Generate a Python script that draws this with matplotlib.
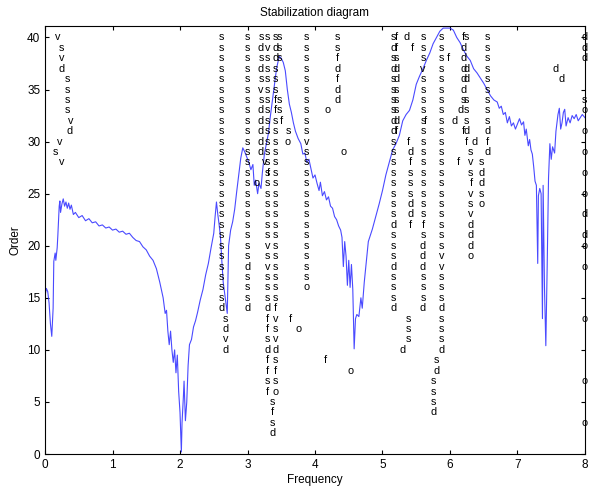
#!/usr/bin/env python3
"""Stabilization diagram: pole markers over a frequency response curve."""

import matplotlib
matplotlib.use("Agg")
import matplotlib.pyplot as plt

# Frequency response curve (scaled to the order axis)
curve_freq = [
    0.00, 0.02, 0.04, 0.06, 0.08, 0.10, 0.12, 0.13, 0.15, 0.16, 0.18, 0.19, 0.21, 0.22,
    0.23, 0.25, 0.27, 0.29, 0.31, 0.33, 0.35, 0.37, 0.39, 0.42, 0.45, 0.50, 0.55, 0.60,
    0.65, 0.70, 0.75, 0.80, 0.85, 0.90, 0.95, 1.00, 1.05, 1.10, 1.15, 1.20, 1.25, 1.30,
    1.35, 1.40, 1.45, 1.50, 1.55, 1.60, 1.65, 1.70, 1.75, 1.78, 1.80, 1.82, 1.84, 1.86,
    1.88, 1.90, 1.92, 1.94, 1.96, 1.98, 2.00, 2.02, 2.03, 2.05, 2.06, 2.08, 2.10, 2.12,
    2.14, 2.17, 2.20, 2.23, 2.26, 2.30, 2.34, 2.38, 2.42, 2.46, 2.50, 2.52, 2.54, 2.56,
    2.58, 2.60, 2.62, 2.64, 2.66, 2.68, 2.70, 2.71, 2.72, 2.75, 2.78, 2.81, 2.84, 2.87,
    2.90, 2.93, 2.96, 2.99, 3.02, 3.05, 3.08, 3.10, 3.12, 3.15, 3.17, 3.20, 3.22, 3.25,
    3.28, 3.31, 3.34, 3.37, 3.40, 3.43, 3.47, 3.50, 3.53, 3.56, 3.59, 3.62, 3.65, 3.68,
    3.71, 3.75, 3.79, 3.82, 3.85, 3.88, 3.91, 3.94, 3.97, 4.00, 4.03, 4.06, 4.08, 4.11,
    4.14, 4.17, 4.20, 4.23, 4.26, 4.29, 4.32, 4.35, 4.38, 4.40, 4.42, 4.44, 4.46, 4.48,
    4.50, 4.52, 4.54, 4.56, 4.58, 4.60, 4.62, 4.65, 4.68, 4.70, 4.73, 4.76, 4.79, 4.82,
    4.85, 4.90, 4.95, 5.00, 5.05, 5.10, 5.15, 5.20, 5.25, 5.30, 5.35, 5.40, 5.45, 5.50,
    5.55, 5.60, 5.65, 5.70, 5.75, 5.80, 5.85, 5.90, 5.95, 6.00, 6.05, 6.10, 6.15, 6.20,
    6.25, 6.30, 6.35, 6.40, 6.45, 6.50, 6.55, 6.60, 6.65, 6.70, 6.73, 6.76, 6.79, 6.82,
    6.85, 6.88, 6.91, 6.94, 6.97, 7.00, 7.03, 7.06, 7.09, 7.11, 7.13, 7.16, 7.18, 7.20,
    7.22, 7.24, 7.26, 7.28, 7.30, 7.31, 7.33, 7.35, 7.37, 7.38, 7.40, 7.42, 7.44, 7.46,
    7.48, 7.50, 7.52, 7.55, 7.57, 7.60, 7.62, 7.64, 7.66, 7.68, 7.70, 7.72, 7.75, 7.78,
    7.81, 7.84, 7.87, 7.90, 7.93, 7.96, 8.00,
]
curve_val = [
    15.2, 15.9, 15.6, 14.5, 12.5, 11.3, 14.0, 18.5, 19.3, 18.6, 19.8, 21.0, 23.8, 24.3,
    23.2, 24.0, 24.5, 23.8, 24.2, 23.6, 24.1, 23.5, 23.9, 23.0, 23.2, 22.7, 22.9, 22.4,
    22.6, 22.2, 22.3, 21.9, 22.0, 21.7, 21.8, 21.5, 21.6, 21.3, 21.4, 21.1, 21.2, 20.8,
    20.5, 20.4, 19.9, 19.6, 19.0, 18.6, 17.8, 16.5, 15.0, 13.5, 13.8, 11.8, 10.5, 11.8,
    10.0, 8.8, 10.0, 7.8, 9.5, 6.0, 4.0, 0.2, 3.0, 5.5, 7.0, 3.2, 5.0, 8.5,
    10.5, 11.0, 12.2, 12.8, 13.6, 14.8, 15.8, 17.2, 18.3, 19.8, 21.2, 22.8, 24.2, 23.0,
    22.0, 20.8, 18.5, 16.5, 15.5, 14.5, 13.5, 17.0, 20.0, 21.5, 22.3, 23.5, 25.2, 26.8,
    28.4, 29.4, 29.0, 28.5, 28.0, 27.3, 27.8, 25.8, 26.3, 25.0, 26.0, 25.5, 27.0, 28.8,
    29.8, 30.8, 32.5, 34.0, 35.5, 37.0, 38.2, 38.0, 37.6, 36.8, 35.0, 33.6, 32.8, 31.8,
    31.0, 30.3, 29.8, 28.8, 28.9, 28.0, 28.3, 27.4, 26.5, 26.8, 26.0, 25.3, 26.1, 24.8,
    25.2, 24.4, 24.7, 23.8, 23.6, 22.8, 22.5, 21.9, 21.5, 20.8, 18.0, 20.4, 19.0, 16.2,
    18.6, 16.0, 18.2, 15.8, 10.1, 13.0, 13.4, 13.2, 15.0, 14.0, 16.5, 18.5, 20.4, 21.0,
    21.6, 22.8, 24.0, 25.3, 26.8, 28.0, 29.2, 29.8, 30.6, 32.0, 32.6, 33.0, 34.0, 35.5,
    36.3, 37.0, 37.8, 38.5, 39.4, 40.0, 40.6, 40.9, 40.9, 40.9, 40.7, 40.0, 39.5, 38.8,
    38.2, 37.8, 37.0, 36.6, 36.1, 35.6, 35.0, 34.4, 34.0, 33.8, 33.2, 33.4, 32.6, 32.8,
    31.8, 32.4, 31.5, 31.8, 31.2, 31.7, 32.2, 31.6, 31.9, 30.6, 31.2, 29.6, 30.2, 29.2,
    28.8, 27.6, 26.2, 25.8, 18.3, 24.8, 25.5, 25.0, 13.0, 25.8, 16.0, 10.4, 18.0, 26.5,
    29.8, 28.3, 29.5, 28.9, 31.0, 32.6, 33.2, 31.2, 31.8, 32.8, 33.1, 31.5, 32.3, 31.8,
    32.5, 32.2, 32.6, 32.0, 32.3, 32.6, 32.3,
]

# Pole markers, one column per entry: frequency, highest order, codes going down
# one order per character (s = stable, v = vector, d = damping, f = frequency,
# o = new pole, blank = no pole at that order)
stab_freq = [
    0.19, 0.25, 0.335, 0.38, 0.36, 0.22, 0.15, 0.24,
    2.62, 2.67,
    3.00, 3.13, 3.20, 3.25, 3.30, 3.31, 3.37, 3.42, 3.47, 3.50,
    3.60, 3.63, 3.75, 3.88,
    4.33, 4.18, 4.42, 4.15, 4.52,
    5.16, 5.21, 5.36, 5.44, 5.38, 5.41, 5.38, 5.30,
    5.60, 5.63, 5.88, 5.97, 5.80, 5.75,
    6.07, 6.15, 6.13, 6.20, 6.25, 6.31, 6.37, 6.47, 6.55,
    7.56, 7.66, 7.99,
]
stab_top = [
    40, 39, 36, 32, 31, 30, 29, 28,
    40, 13,
    40, 26, 40, 28, 40, 27, 5, 40, 40, 32,
    31, 13, 12, 40,
    40, 33, 29, 9, 8,
    40, 40, 40, 39, 30, 29, 13, 10,
    40, 32, 40, 38, 9, 7,
    32, 33, 28, 40, 40, 29, 30, 28, 40,
    37, 36, 40,
]
stab_codes = [
    "v", "svd", "ssss", "v", "d", "v", "s", "v",
    "s" * 26 + "d", "sdvd",
    "s" * 22 + "dsssd", "o", "sdsdsvsddddd", "v",
    "sv" + "s" * 18 + "vsvsss" + "dffsdffsf", "f", "sfsd",
    "sddsssffs" + "s" * 17 + "fvsvdsfso", "sss   ss", "f",
    "so", "f", "o", "s" * 10 + "v" + "s" * 13 + "o",
    "ssfdfdd", "o", "o", "f", "o",
    "sdsdssssdd" + "s" * 8 + "dsssdsssd", "ffsddsssdf", "d", "f", "f", "dfsssddf", "sss", "d",
    "sssv" + "s" * 14 + "fsdddsssd", "f", "s" * 21 + "vvsssdsssd", "f", "sd", "sssd",
    "d", "d", "f", "fddddds  f", "s  dd sssdf", "svsfvsvdddo", "d", "sddso", "s" * 9 + "dfd",
    "d", "d", "ddd   so o o o o d do o    o     o   o",
]

plt.rcParams.update({
    "font.family": ["Liberation Sans", "DejaVu Sans"],
    "font.size": 8.5,
    "xtick.direction": "in",
    "ytick.direction": "in",
    "xtick.top": True,
    "ytick.right": True,
    "xtick.major.size": 3,
    "ytick.major.size": 3,
    "axes.linewidth": 0.8,
})

fig = plt.figure(figsize=(5.94, 4.86), dpi=100)
ax = fig.add_axes([0.0758, 0.0658, 0.909, 0.8807])

ax.plot(curve_freq, curve_val, color="#2a2aff", linewidth=0.8, alpha=0.85)

for f, top, codes in zip(stab_freq, stab_top, stab_codes):
    for k, c in enumerate(codes):
        if c == " ":
            continue
        ax.text(f, top - k, c, ha="center", va="center", fontsize=7.8, color="black")

ax.set_xlim(0, 8)
ax.set_ylim(0, 41.1)
ax.set_xticks(range(0, 9))
ax.set_yticks(range(0, 41, 5))
ax.set_xlabel("Frequency", labelpad=2)
ax.set_ylabel("Order", labelpad=4)
ax.set_title("Stabilization diagram", fontsize=8.5, pad=7)

fig.savefig("out.png", dpi=100)
